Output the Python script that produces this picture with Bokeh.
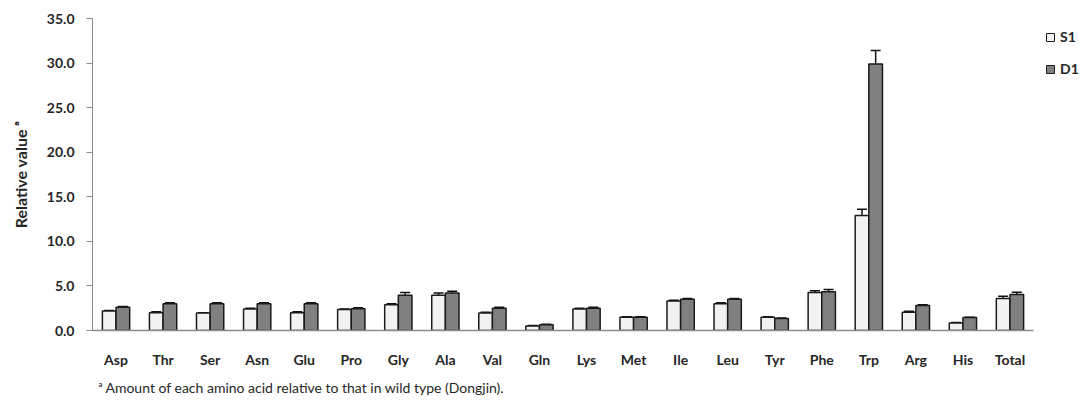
from bokeh.plotting import figure
from bokeh.layouts import row
from bokeh.models import (ColumnDataSource, FactorRange, Range1d, Whisker, TeeHead,
                          Legend, LegendItem, Title, SingleIntervalTicker, CustomJSTickFormatter)
from bokeh.transform import dodge
from bokeh.embed import file_html
from bokeh.resources import INLINE

categories = ["Asp", "Thr", "Ser", "Asn", "Glu", "Pro", "Gly", "Ala", "Val", "Gln",
              "Lys", "Met", "Ile", "Leu", "Tyr", "Phe", "Trp", "Arg", "His", "Total"]
s1_values = [2.2, 2.0, 1.95, 2.4, 2.0, 2.35, 2.9, 3.95, 1.95, 0.5,
             2.4, 1.5, 3.3, 3.0, 1.5, 4.25, 12.9, 2.05, 0.85, 3.6]
d1_values = [2.6, 3.0, 3.0, 3.0, 3.0, 2.45, 3.95, 4.2, 2.5, 0.65,
             2.5, 1.5, 3.5, 3.5, 1.35, 4.35, 29.9, 2.8, 1.45, 4.05]
s1_err = [0.05, 0.1, 0.05, 0.1, 0.1, 0.05, 0.1, 0.25, 0.1, 0.05,
          0.1, 0.05, 0.1, 0.1, 0.05, 0.2, 0.7, 0.1, 0.05, 0.25]
d1_err = [0.1, 0.1, 0.1, 0.1, 0.1, 0.1, 0.3, 0.2, 0.1, 0.05,
          0.1, 0.05, 0.1, 0.1, 0.05, 0.25, 1.5, 0.1, 0.05, 0.25]
series_labels = ["S1", "D1"]
footnote = "\u1d43 Amount of each amino acid relative to that in wild type (Dongjin)."

src = ColumnDataSource(dict(
    cat=categories, s1=s1_values, d1=d1_values,
    s1_lo=[v - e for v, e in zip(s1_values, s1_err)],
    s1_hi=[v + e for v, e in zip(s1_values, s1_err)],
    d1_lo=[v - e for v, e in zip(d1_values, d1_err)],
    d1_hi=[v + e for v, e in zip(d1_values, d1_err)],
))

FONT = "Lato"
TXT = "#262626"
AX = "#8c8c8c"
S1_FILL = "#f2f2f2"
D1_FILL = "#808080"
EDGE = "#1a1a1a"

p = figure(x_range=FactorRange(*categories), y_range=Range1d(0, 35),
           width=1040, height=403, output_backend="svg", toolbar_location=None,
           min_border_left=92, min_border_right=7, min_border_top=18, min_border_bottom=73)
p.x_range.range_padding = 0
p.outline_line_color = None
p.grid.grid_line_color = None

off = 0.145
bw = 0.29
r1 = p.vbar(x=dodge("cat", -off, range=p.x_range), top="s1", width=bw, source=src,
            fill_color=S1_FILL, line_color=EDGE, line_width=1.5)
r2 = p.vbar(x=dodge("cat", off, range=p.x_range), top="d1", width=bw, source=src,
            fill_color=D1_FILL, line_color=EDGE, line_width=1.5)

for x_off, lo, hi in [(-off, "s1_lo", "s1_hi"), (off, "d1_lo", "d1_hi")]:
    w = Whisker(base=dodge("cat", x_off, range=p.x_range), lower=lo, upper=hi, source=src,
                line_color="#111111", line_width=1.5,
                upper_head=TeeHead(size=10, line_color="#111111", line_width=1.5),
                lower_head=TeeHead(size=10, line_color="#111111", line_width=1.5))
    p.add_layout(w)

p.yaxis.ticker = SingleIntervalTicker(interval=5)
p.yaxis.formatter = CustomJSTickFormatter(code="return tick.toFixed(1);")
p.yaxis.axis_line_color = AX
p.yaxis.major_tick_line_color = AX
p.yaxis.major_tick_out = 6
p.yaxis.major_tick_in = 0
p.yaxis.minor_tick_line_color = None
p.yaxis.major_label_text_font = FONT
p.yaxis.major_label_text_font_style = "bold"
p.yaxis.major_label_text_font_size = "14px"
p.yaxis.major_label_text_color = TXT
p.yaxis.major_label_standoff = 12
p.yaxis.axis_label = "Relative value \u1d43"
p.yaxis.axis_label_text_font = FONT
p.yaxis.axis_label_text_font_style = "bold"
p.yaxis.axis_label_text_font_size = "16px"
p.yaxis.axis_label_text_color = TXT
p.yaxis.axis_label_standoff = 14

p.xaxis.axis_line_color = AX
p.xaxis.axis_line_width = 1.5
p.xaxis.major_tick_line_color = None
p.xaxis.minor_tick_line_color = None
p.xaxis.major_label_text_font = FONT
p.xaxis.major_label_text_font_style = "bold"
p.xaxis.major_label_text_font_size = "14px"
p.xaxis.major_label_text_color = TXT
p.xaxis.major_label_standoff = 14

p.add_layout(Title(text=footnote, align="left", offset=6, standoff=12,
                   text_font=FONT, text_font_size="14px", text_font_style="normal",
                   text_color=TXT), "below")

# legend panel on the right
lg = figure(width=39, height=403, output_backend="svg", toolbar_location=None,
            x_axis_type=None, y_axis_type=None, min_border=0,
            x_range=Range1d(0, 1), y_range=Range1d(0, 1))
lg.outline_line_color = None
lg.grid.grid_line_color = None
blank = ColumnDataSource(dict(x=[float("nan")], top=[float("nan")]))
k1 = lg.vbar(x="x", top="top", width=0.1, source=blank,
             fill_color=S1_FILL, line_color=EDGE, line_width=1)
k2 = lg.vbar(x="x", top="top", width=0.1, source=blank,
             fill_color=D1_FILL, line_color=EDGE, line_width=1)
legend = Legend(items=[LegendItem(label=series_labels[0], renderers=[k1]),
                       LegendItem(label=series_labels[1], renderers=[k2])],
                location="top_left", orientation="vertical",
                title=" ", title_text_font_size="2px", title_standoff=3,
                glyph_width=10, glyph_height=10, label_height=10, spacing=15,
                padding=0, margin=5, border_line_color=None, background_fill_alpha=0,
                label_text_font=FONT, label_text_font_style="bold",
                label_text_font_size="14px", label_text_color=TXT, label_standoff=5)
lg.add_layout(legend)

layout = row(p, lg, spacing=0)
open("out.html", "w").write(file_html(layout, INLINE))
